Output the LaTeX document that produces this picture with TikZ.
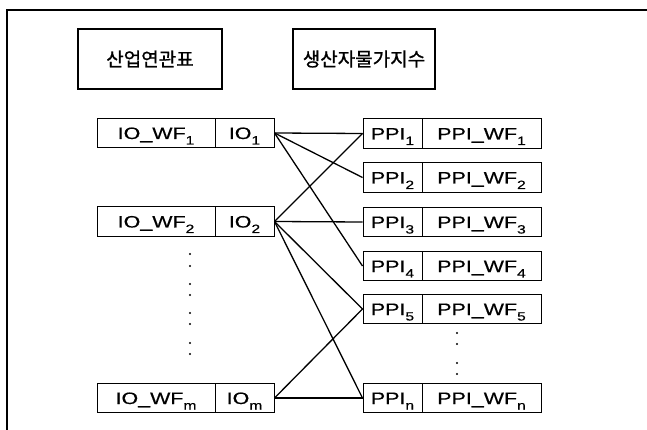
\documentclass[tikz,border=0pt]{standalone}
\usepackage{fontspec}
\setmainfont{Liberation Sans}
\newfontfamily\lblfont[FakeStretch=1.3,FakeBold=0.5]{Liberation Sans}
\newfontfamily\krfont[FakeBold=1]{Noto Sans CJK KR}
\newcommand\subsc[1]{\raisebox{-5.5pt}{\fontsize{12}{12}\selectfont #1}}
\begin{document}
\begin{tikzpicture}[x=1pt,y=-1pt,
  hdr/.style={draw, line width=1.8pt, minimum height=60pt, inner sep=0pt, font=\krfont\fontsize{19}{19}\selectfont},
  cell/.style={draw, line width=1pt, minimum height=29.5pt, inner sep=0pt, text height=12pt, text depth=0pt, font=\lblfont\fontsize{16.5}{16.5}\selectfont},
  link/.style={line width=1.3pt},
  dot/.style={circle, fill, inner sep=0pt, minimum size=2.4pt}]
\useasboundingbox (0,0) rectangle (647,430);
\draw[line width=1.2pt] (647,10) -- (7,10) -- (7,430);
% headers
\node[hdr, minimum width=144pt] (hl) at (150,59) {산업연관표};
\node[hdr, minimum width=142pt] (hr) at (364,59) {생산자물가지수};
% left cells
\node[cell, minimum width=118pt] (wf1) at (156,133) {IO\_WF\subsc{1}};
\node[cell, minimum width=59pt] (io1) at (244.5,133) {IO\subsc{1}};
\node[cell, minimum width=118pt] (wf2) at (156,221.5) {IO\_WF\subsc{2}};
\node[cell, minimum width=59pt] (io2) at (244.5,221.5) {IO\subsc{2}};
\node[cell, minimum width=118pt] (wfm) at (156,398) {IO\_WF\subsc{m}};
\node[cell, minimum width=59pt] (iom) at (244.5,398) {IO\subsc{m}};
% right cells
\node[cell, minimum width=59pt] (p1) at (392.5,133.5) {PPI\subsc{1}};
\node[cell, minimum width=119pt] (pw1) at (481.5,133.5) {PPI\_WF\subsc{1}};
\node[cell, minimum width=59pt] (p2) at (392.5,177.5) {PPI\subsc{2}};
\node[cell, minimum width=119pt] (pw2) at (481.5,177.5) {PPI\_WF\subsc{2}};
\node[cell, minimum width=59pt] (p3) at (392.5,222) {PPI\subsc{3}};
\node[cell, minimum width=119pt] (pw3) at (481.5,222) {PPI\_WF\subsc{3}};
\node[cell, minimum width=59pt] (p4) at (392.5,266) {PPI\subsc{4}};
\node[cell, minimum width=119pt] (pw4) at (481.5,266) {PPI\_WF\subsc{4}};
\node[cell, minimum width=59pt] (p5) at (392.5,309) {PPI\subsc{5}};
\node[cell, minimum width=119pt] (pw5) at (481.5,309) {PPI\_WF\subsc{5}};
\node[cell, minimum width=59pt] (pn) at (392.5,398) {PPI\subsc{n}};
\node[cell, minimum width=119pt] (pwn) at (481.5,398) {PPI\_WF\subsc{n}};
% links
\draw[link] (io1.east) -- (p1.west);
\draw[link] (io1.east) -- (p2.west);
\draw[link] (io1.east) -- (p4.west);
\draw[link] (io2.east) -- (p1.west);
\draw[link] (io2.east) -- (p3.west);
\draw[link] (io2.east) -- (p5.west);
\draw[link] (io2.east) -- (pn.west);
\draw[link] (iom.east) -- (p5.west);
\draw[link] (iom.east) -- (pn.west);
% dots
\foreach \y [count=\i] in {254,266,284,295,313,324,343,354}
  \node[dot] (ld\i) at (190,\y) {};
\foreach \y [count=\i] in {333,344,363,374}
  \node[dot] (rd\i) at (457,\y) {};
\end{tikzpicture}
\end{document}
